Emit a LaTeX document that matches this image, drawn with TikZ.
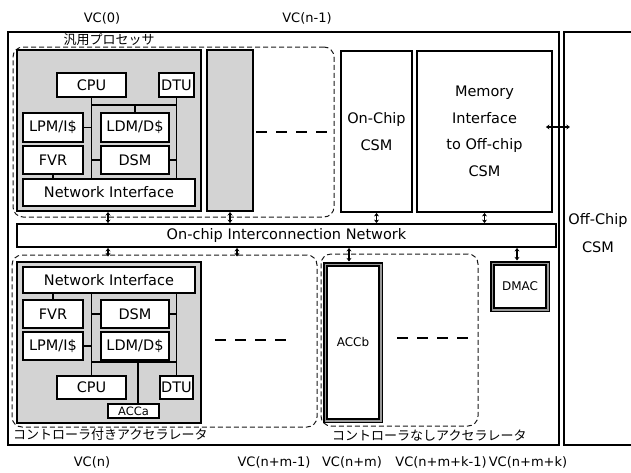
\documentclass[tikz,border=0pt]{standalone}
\usepackage{fontspec}
\setmainfont{DejaVu Sans}
\newfontfamily\jpfont{Noto Sans CJK JP}
\usetikzlibrary{arrows.meta,calc}
\newcommand\fsMain{\fontsize{14.5}{17}\selectfont}
\newcommand\fsTall{\fontsize{14.5}{26.5}\selectfont}
\newcommand\fsSmall{\fontsize{12}{14}\selectfont}
\newcommand\fsTiny{\fontsize{11.5}{13}\selectfont}
\newcommand\fsVC{\fontsize{13}{16}\selectfont}
\definecolor{coregray}{HTML}{D3D3D3}
\begin{document}
\begin{tikzpicture}[x=1pt,y=-1pt,
  box/.style={draw, line width=1.9, fill=white, inner sep=0, font=\fsMain},
  core/.style={draw, line width=2, fill=coregray, inner sep=0},
  frame/.style={draw, line width=2.2, inner sep=0},
  wire/.style={line width=1.5},
  dbox/.style={draw=black!90, dash pattern=on 5pt off 3pt, rounded corners=10pt, line width=1, inner sep=0},
  ghost/.style={line width=1.9, dash pattern=on 11pt off 9pt},
  arr/.style={{Stealth[length=3.5pt,width=5pt]}-{Stealth[length=3.5pt,width=5pt]}, line width=1.4},
  tribox/.style={draw=black, double=black!40, double distance=1.5pt, line width=1.6, fill=white, inner sep=0},
  jp/.style={font=\jpfont\fontsize{13}{15}\selectfont, inner sep=0},
  vc/.style={font=\fsVC, inner sep=0}
]
\useasboundingbox (0,0) rectangle (631,472);

% frames
\node[frame, minimum width=551, minimum height=413] (chip) at (283.5,238.5) {};
\node[frame, minimum width=70, minimum height=413] (off) at (599,238.5) {};
\node[font=\fsMain] (offt1) at (598,220) {Off-Chip};
\node[font=\fsMain] (offt2) at (598,247) {CSM};

% VC labels
\node[vc] (vc0) at (102,18) {VC(0)};
\node[vc] (vcn1) at (307,18) {VC(n-1)};
\node[vc] (vcn) at (92,462) {VC(n)};
\node[vc] (vcnm1) at (274,462) {VC(n+m-1)};
\node[vc] (vcnm) at (352,462) {VC(n+m)};
\node[vc] (vcnmk1) at (441,462) {VC(n+m+k-1)};
\node[vc] (vcnmk) at (528,462) {VC(n+m+k)};

% dashed groups
\node[dbox, minimum width=321, minimum height=170] (gA) at (173.5,132) {};
\node[jp] (gAl) at (109,40) {汎用プロセッサ};
\node[dbox, minimum width=305, minimum height=172] (gB) at (164.5,341) {};
\node[jp, anchor=west] (gBl) at (13,435) {コントローラ付きアクセラレータ};
\node[dbox, minimum width=157, minimum height=172] (gC) at (399.5,340) {};
\node[jp, anchor=west] (gCl) at (332,436) {コントローラなしアクセラレータ};

% top processor core
\node[core, minimum width=184, minimum height=161] (coreA) at (109,130.5) {};
\node[core, minimum width=46, minimum height=161] (coreA2) at (230,130.5) {};
\node[box, minimum width=69, minimum height=24] (cpuA) at (91.5,85) {CPU};
\node[box, minimum width=35, minimum height=24] (dtuA) at (176.5,85) {DTU};
\node[box, minimum width=60, minimum height=29] (lpmA) at (53,127.5) {LPM/I\$};
\node[box, minimum width=68, minimum height=29] (ldmA) at (135,127.5) {LDM/D\$};
\node[box, minimum width=60, minimum height=28] (fvrA) at (53,160) {FVR};
\node[box, minimum width=68, minimum height=28] (dsmA) at (135,160) {DSM};
\node[box, minimum width=172, minimum height=27] (niA) at (109,192.5) {Network Interface};
\coordinate (hA) at (0,105);
\draw[wire] (cpuA.south) -- (cpuA.south |- niA.north);
\draw[wire] (dtuA.south) -- (dtuA.south |- niA.north);
\draw[wire] (cpuA.south |- hA) -- (dtuA.south |- hA);
\draw[wire] (ldmA.north) -- (ldmA.north |- hA);
\draw[wire] (lpmA.east) -- (lpmA.east -| cpuA.south);
\draw[wire] (dsmA.west) -- (dsmA.west -| cpuA.south);
\draw[wire] (dsmA.east) -- (dsmA.east -| dtuA.south);
\draw[wire] (fvrA.south) -- (fvrA.south |- niA.north);

% CSM and memory interface
\node[box, minimum width=71, minimum height=161, align=center, font=\fsTall] (csm) at (376.5,131.5) {On-Chip\\CSM};
\node[box, minimum width=135, minimum height=161, align=center, font=\fsTall] (memif) at (484.5,131.5) {Memory\\Interface\\to Off-chip\\CSM};

% network
\node[box, minimum width=539, minimum height=23] (net) at (286.5,235.5) {On-chip Interconnection Network};

% bottom accelerator core
\node[core, minimum width=184, minimum height=161] (coreB) at (109,342.5) {};
\node[box, minimum width=172, minimum height=26] (niB) at (109,280) {Network Interface};
\node[box, minimum width=60, minimum height=28] (fvrB) at (53,314) {FVR};
\node[box, minimum width=68, minimum height=28] (dsmB) at (135,314) {DSM};
\node[box, minimum width=60, minimum height=28] (lpmB) at (53,346) {LPM/I\$};
\node[box, minimum width=68, minimum height=28] (ldmB) at (135,346) {LDM/D\$};
\node[box, minimum width=69, minimum height=23] (cpuB) at (91.5,387.5) {CPU};
\node[box, minimum width=33, minimum height=23] (dtuB) at (176.5,387.5) {DTU};
\node[box, minimum width=51, minimum height=14, font=\fsTiny] (accA) at (133.5,411) {ACCa};
\coordinate (hB) at (0,362);
\coordinate (av) at ($(accA.north)+(4.5,0)$);
\draw[wire] (niB.south -| cpuB.north) -- (cpuB.north);
\draw[wire] (niB.south -| dtuB.north) -- (dtuB.north);
\draw[wire] (fvrB.north) -- (fvrB.north |- niB.south);
\draw[wire] (dsmB.west) -- (dsmB.west -| cpuB.north);
\draw[wire] (dsmB.east) -- (dsmB.east -| dtuB.north);
\draw[wire] (lpmB.east) -- (lpmB.east -| cpuB.north);
\draw[wire] (ldmB.south) -- (ldmB.south |- hB);
\draw[wire] (cpuB.north |- hB) -- (dtuB.north |- hB);
\draw[wire] (av) -- (av |- hB);

% accelerators without controller and DMAC
\node[tribox, minimum width=55.5, minimum height=156.5, font=\fsSmall] (accb) at (353,342.5) {ACCb};
\node[tribox, minimum width=55.5, minimum height=46.5, font=\fsSmall] (dmac) at (520,286.5) {DMAC};

% ghost dashes
\coordinate (gA1) at (256,132); \coordinate (gA2) at (333,132);
\coordinate (gB1) at (215,340); \coordinate (gB2) at (293,340);
\coordinate (gC1) at (397,338); \coordinate (gC2) at (473,338);
\draw[ghost] (gA1) -- (gA2);
\draw[ghost] (gB1) -- (gB2);
\draw[ghost] (gC1) -- (gC2);

% arrows
\coordinate (xa) at (108,0);
\coordinate (xb) at (237,0);
\coordinate (xc) at (349,0);
\coordinate (xd) at (517,0);
\draw[arr] (coreA.south -| xa) -- (net.north -| xa);
\draw[arr] (coreA2.south) -- (coreA2.south |- net.north);
\draw[arr] (csm.south) -- (csm.south |- net.north);
\draw[arr] (memif.south) -- (memif.south |- net.north);
\draw[arr] (net.south -| xa) -- ($(gB.north -| xa)+(0,2)$);
\draw[arr] (net.south -| xb) -- ($(gB.north -| xb)+(0,2)$);
\draw[arr] (net.south -| xc) -- ($(accb.north -| xc)+(0,-2)$);
\draw[arr] (net.south -| xd) -- ($(dmac.north -| xd)+(0,-2)$);
\coordinate (ha1) at ($(memif.east)+(-7,-4.5)$);
\coordinate (ha2) at ($(off.west)+(7,-111.5)$);
\draw[arr] (ha1) -- (ha1 -| ha2);
\end{tikzpicture}
\end{document}
